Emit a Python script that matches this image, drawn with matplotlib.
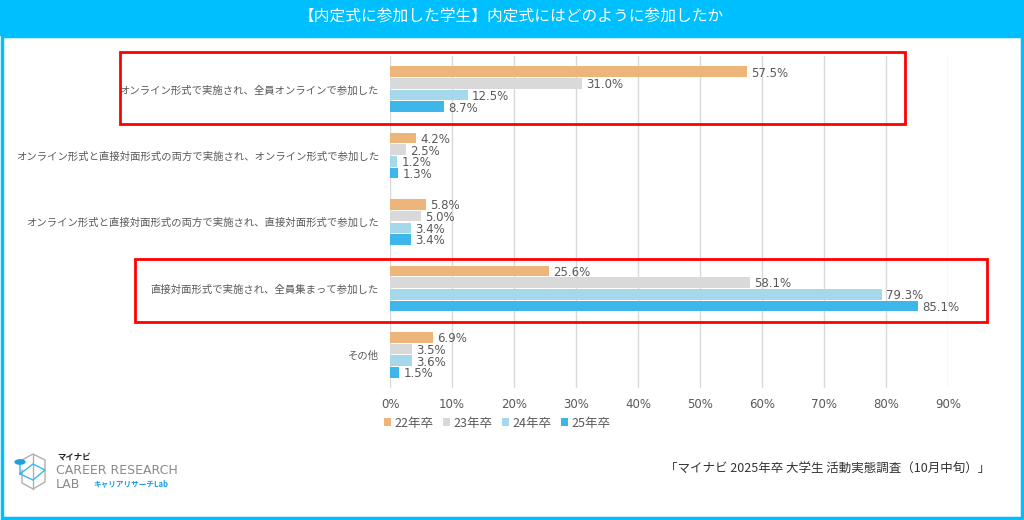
import numpy as np
import matplotlib as mpl
import matplotlib.pyplot as plt
from matplotlib.patches import Rectangle, Circle

mpl.use("Agg")

categories = [
    "オンライン形式で実施され、全員オンラインで参加した",
    "オンライン形式と直接対面形式の両方で実施され、オンライン形式で参加した",
    "オンライン形式と直接対面形式の両方で実施され、直接対面形式で参加した",
    "直接対面形式で実施され、全員集まって参加した",
    "その他",
]
series_names = ["22年卒", "23年卒", "24年卒", "25年卒"]
values_22 = [57.5, 4.2, 5.8, 25.6, 6.9]
values_23 = [31.0, 2.5, 5.0, 58.1, 3.5]
values_24 = [12.5, 1.2, 3.4, 79.3, 3.6]
values_25 = [8.7, 1.3, 3.4, 85.1, 1.5]
x_ticks = [0, 10, 20, 30, 40, 50, 60, 70, 80, 90]

colors = ["#EDB57A", "#D9D9D9", "#A6D8EC", "#3DB6EA"]
cyan = "#00BFFF"
grey_text = "#595959"

plt.rcParams["font.family"] = ["Noto Sans CJK JP", "DejaVu Sans"]

W, H = 1024, 520
fig = plt.figure(figsize=(W / 100, H / 100), dpi=100)


def fx(px):
    return px / W


def fy(py):
    return 1 - py / H


# frame and title bar
fig.patches.append(Rectangle((0, fy(36)), 1, fy(0) - fy(36), transform=fig.transFigure,
                             facecolor=cyan, edgecolor="none", zorder=0))
fig.patches.append(Rectangle((fx(1.5), fy(518)), fx(1020), fy(36) - fy(518), transform=fig.transFigure,
                             facecolor="none", edgecolor=cyan, linewidth=2.5, zorder=0))
fig.text(fx(511), fy(17), "【内定式に参加した学生】内定式にはどのように参加したか",
         ha="center", va="center", color="white", fontsize=11.3)

ax = fig.add_axes([fx(390), fy(388), fx(948) - fx(390), fy(56) - fy(388)])

series = [values_22, values_23, values_24, values_25]
y = np.arange(len(categories))
step = 0.176
bar_h = 0.16
for j, vals in enumerate(series):
    ys = y + (j - 1.5) * step
    ax.barh(ys, vals, height=bar_h, color=colors[j], label=series_names[j], zorder=3)
    for yy, v in zip(ys, vals):
        ax.annotate(f"{v:.1f}%", (v, yy), xytext=(3, -1), textcoords="offset points",
                    ha="left", va="center", fontsize=8.5, color=grey_text,
                    family=["DejaVu Sans"], annotation_clip=False)

ax.set_xlim(0, 90)
ax.set_ylim(len(categories) - 0.5, -0.5)
ax.set_xticks(x_ticks)
ax.set_xticklabels([f"{t}%" for t in x_ticks], fontsize=8.5, color=grey_text, family=["DejaVu Sans"])
ax.set_yticks(y)
ax.set_yticklabels(categories, fontsize=7.45, color=grey_text)
ax.tick_params(length=0, pad=8)
ax.tick_params(axis="x", pad=7)
ax.grid(axis="x", color="#D9D9D9", linewidth=1, zorder=0)
for s in ax.spines.values():
    s.set_visible(False)

leg = fig.legend(loc="center", bbox_to_anchor=(fx(497), fy(423)), ncol=4, frameon=False,
                 handlelength=0.55, handleheight=0.55, handletextpad=0.25, columnspacing=0.8,
                 fontsize=9)
for t in leg.get_texts():
    t.set_color(grey_text)

# highlight boxes
for x0, y0, x1, y1 in [(120, 52, 905, 124), (135, 259, 987, 322)]:
    fig.patches.append(Rectangle((fx(x0), fy(y1)), fx(x1) - fx(x0), fy(y0) - fy(y1),
                                 transform=fig.transFigure, facecolor="none",
                                 edgecolor="#FF0000", linewidth=2, zorder=5))

# source note
fig.text(fx(990), fy(469), "「マイナビ 2025年卒 大学生 活動実態調査（10月中旬）」",
         ha="right", va="center", fontsize=9, color="#333333")

# logo
cube = [(22, 470), (22, 483), (33, 489), (45, 482), (45, 460), (33, 454), (22, 460)]
fig.lines.append(plt.Line2D([fx(p[0]) for p in cube], [fy(p[1]) for p in cube],
                            transform=fig.transFigure, color="#B0B0B0", linewidth=1))
inner = [(33, 454), (33, 489)]
fig.lines.append(plt.Line2D([fx(p[0]) for p in inner], [fy(p[1]) for p in inner],
                            transform=fig.transFigure, color="#B0B0B0", linewidth=1))
blue_path = [(20, 463), (20, 474), (33, 480), (45, 470), (33, 464), (20, 474)]
fig.lines.append(plt.Line2D([fx(p[0]) for p in blue_path], [fy(p[1]) for p in blue_path],
                            transform=fig.transFigure, color="#3DB6EA", linewidth=1))
fig.patches.append(Circle((fx(20), fy(462)), 0.0055, transform=fig.transFigure,
                          facecolor="#1E9FE0", edgecolor="none", zorder=6))
fig.text(fx(57), fy(457), "マイナビ", fontsize=6, fontweight="bold", color="#222222", va="center")
fig.text(fx(56), fy(470), "CAREER RESEARCH", fontsize=9, color="#8A8A8A", va="center",
         family=["DejaVu Sans"])
fig.text(fx(56), fy(484), "LAB", fontsize=9, color="#8A8A8A", va="center", family=["DejaVu Sans"])
fig.text(fx(93), fy(484), "キャリアリサーチLab", fontsize=5.5, fontweight="bold", color="#1E9FE0",
         va="center")

fig.savefig("out.png", dpi=100)
